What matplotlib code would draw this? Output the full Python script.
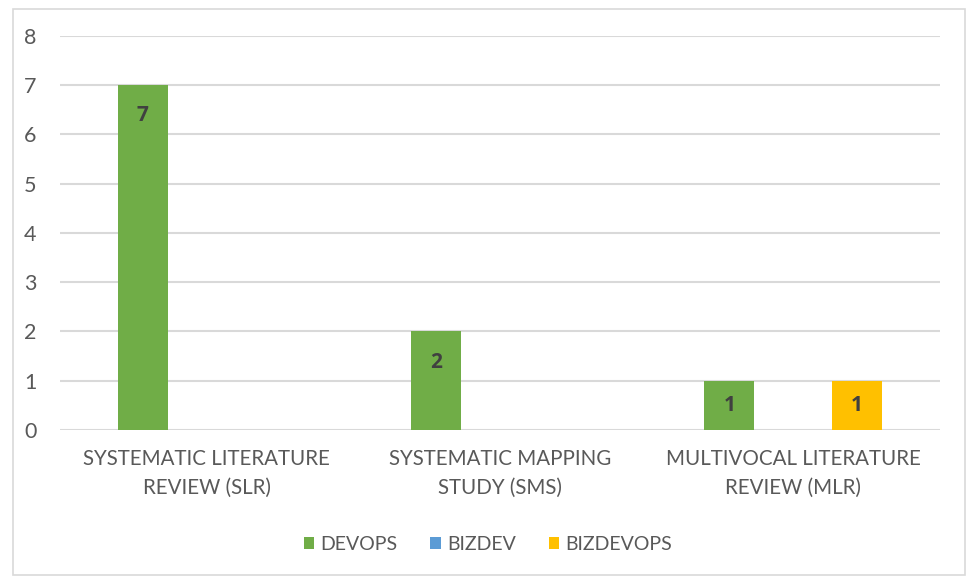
import numpy as np
import matplotlib
matplotlib.use('Agg')
from matplotlib import pyplot as plt
from matplotlib.patches import Rectangle

plt.rcParams['font.family'] = ['Lato', 'DejaVu Sans']

categories = ['SYSTEMATIC LITERATURE\nREVIEW (SLR)',
              'SYSTEMATIC MAPPING\nSTUDY (SMS)',
              'MULTIVOCAL LITERATURE\nREVIEW (MLR)']
series_names = ['DEVOPS', 'BIZDEV', 'BIZDEVOPS']
devops = [7, 2, 1]
bizdev = [0, 0, 0]
bizdevops = [0, 0, 1]
colors = ['#70AD47', '#5B9BD5', '#FFC000']

fig = plt.figure(figsize=(9.66, 5.77), dpi=100)
ax = fig.add_axes([0.062, 0.2548, 0.911, 0.6828])

x = np.arange(len(categories))
width = 0.17
step = 0.218
for i, (name, vals, col) in enumerate(zip(series_names, [devops, bizdev, bizdevops], colors)):
    pos = x + (i - 1) * step
    ax.bar(pos, vals, width, color=col, label=name, zorder=3)
    for px, v in zip(pos, vals):
        if v > 0:
            ax.text(px, v - min(0.62, v / 2), str(v), ha='center', va='center',
                    fontsize=15, fontweight='bold', family=['Open Sans', 'DejaVu Sans'],
                    color='#404040', zorder=4)

ax.set_xlim(-0.5, 2.5)
ax.set_ylim(0, 8)
ax.set_yticks(range(0, 9))
ax.yaxis.grid(True, color='#d9d9d9', linewidth=1.5, zorder=0)
ax.set_xticks(x)
ax.set_xticklabels(categories, fontsize=14.8, color='#595959', linespacing=1.55)
ax.tick_params(axis='y', labelsize=15.5, colors='#595959', length=0, pad=17)
ax.tick_params(axis='x', length=0, pad=14)
for s in ax.spines.values():
    s.set_visible(False)

leg = fig.legend(loc='center', bbox_to_anchor=(0.505, 0.056), ncol=3, frameon=False,
                 fontsize=14, handlelength=0.55, handleheight=0.55, handletextpad=0.3,
                 columnspacing=1.7)
for t in leg.get_texts():
    t.set_color('#595959')

fig.patches.append(Rectangle((0.0135, 0.0035), 0.985, 0.981, transform=fig.transFigure,
                             fill=False, edgecolor='#d9d9d9', linewidth=1.2))

fig.savefig('out.png', dpi=100)
